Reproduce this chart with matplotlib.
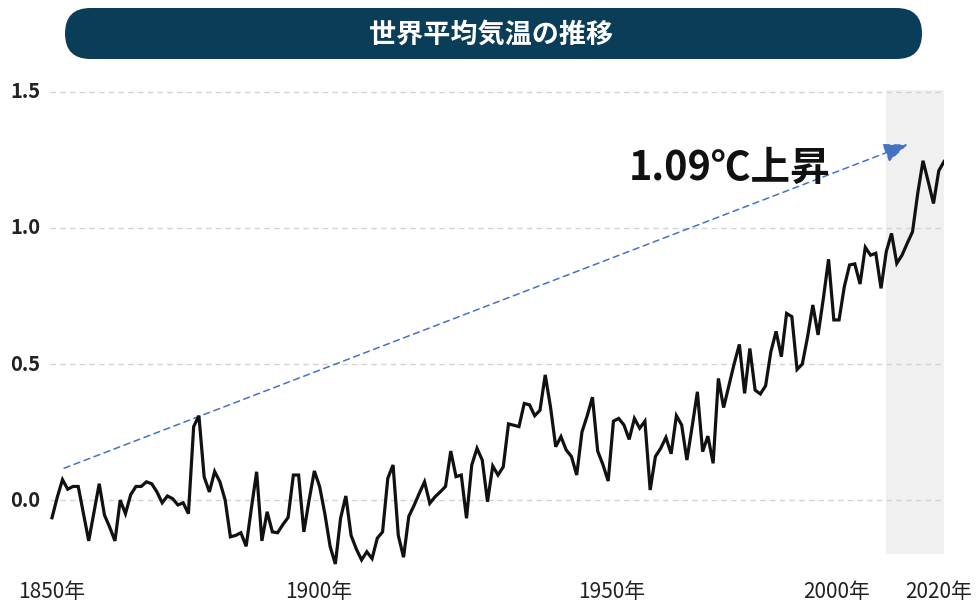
import numpy as np
import matplotlib
matplotlib.use("Agg")
import matplotlib.pyplot as plt
import matplotlib.transforms as mtransforms
from matplotlib.patches import FancyBboxPatch, Rectangle

plt.rcParams['font.family'] = ['Noto Sans CJK JP', 'DejaVu Sans']

# ---------------- data ----------------
years = list(range(1850, 2021))
anomaly = [
    -0.065, 0.01, 0.075, 0.04, 0.05, 0.05, -0.05, -0.15, -0.045, 0.06,
    -0.055, -0.10, -0.15, 0.0, -0.05, 0.02, 0.05, 0.05, 0.067, 0.06,
    0.03, -0.01, 0.015, 0.005, -0.018, -0.01, -0.05, 0.27, 0.31, 0.085,
    0.03, 0.105, 0.067, 0.0, -0.135, -0.13, -0.12, -0.17, -0.03, 0.104,
    -0.15, -0.043, -0.117, -0.12, -0.09, -0.064, 0.092, 0.092, -0.117, 0.0,
    0.107, 0.05, -0.05, -0.17, -0.235, -0.067, 0.015, -0.13, -0.18, -0.22,
    -0.19, -0.215, -0.14, -0.117, 0.08, 0.129, -0.13, -0.21, -0.06, -0.02,
    0.025, 0.067, -0.012, 0.012, 0.03, 0.05, 0.18, 0.086, 0.092, -0.067,
    0.129, 0.19, 0.147, -0.006, 0.125, 0.092, 0.122, 0.28, 0.275, 0.27,
    0.355, 0.35, 0.31, 0.33, 0.46, 0.343, 0.196, 0.233, 0.184, 0.16,
    0.092, 0.25, 0.31, 0.378, 0.18, 0.13, 0.07, 0.29, 0.30, 0.276,
    0.223, 0.30, 0.264, 0.29, 0.037, 0.16, 0.19, 0.23, 0.17, 0.31,
    0.276, 0.147, 0.27, 0.398, 0.178, 0.235, 0.135, 0.447, 0.34, 0.42,
    0.50, 0.572, 0.392, 0.557, 0.404, 0.39, 0.42, 0.545, 0.62, 0.527,
    0.686, 0.674, 0.48, 0.50, 0.60, 0.717, 0.607, 0.74, 0.885, 0.662,
    0.662, 0.784, 0.864, 0.868, 0.794, 0.929, 0.90, 0.907, 0.778, 0.913,
    0.98, 0.87, 0.90, 0.944, 0.986, 1.128, 1.247, 1.17, 1.09, 1.21,
    1.244,
]
y_ticks = [0.0, 0.5, 1.0, 1.5]
y_tick_labels = ["0.0", "0.5", "1.0", "1.5"]
x_tick_years = [1850, 1900, 1950, 2000, 2020]
x_tick_labels = ["1850年", "1900年", "1950年", "2000年", "2020年"]
highlight_span = (2009, 2020)
arrow_start = (1852.3, 0.117)
arrow_end = (2013.1, 1.307)
annotation_text = "1.09℃上昇"
annotation_pos = (1979.2, 1.22)
title = "世界平均気温の推移"

# ---------------- styles ----------------
W, H = 980, 605
x_label_shift_px = [0, 4, 35, -2, -5]
line_color = "#111111"
banner_color = "#0a3d57"
grid_color = "#d4d4d4"
span_color = "#f0f0f0"
arrow_color = "#4472c4"

fig = plt.figure(figsize=(W / 100, H / 100), dpi=100)
fig.patch.set_facecolor("white")

# main axes: px 50..944 horizontally, px 90..570 vertically
ax = fig.add_axes([50 / W, (H - 570) / H, 894 / W, 480 / H])
ax.set_xlim(1849.62, 2020.0)
ax.set_ylim(-0.257, 1.507)
for s in ax.spines.values():
    s.set_visible(False)
ax.set_xticks([])
ax.set_yticks([])
ax.set_facecolor("none")

# highlight region
ax.add_patch(Rectangle((highlight_span[0], -0.2), highlight_span[1] - highlight_span[0],
                       1.715, facecolor=span_color, edgecolor="none", zorder=0))

# gridlines
for yv in y_ticks:
    ax.axhline(yv, color=grid_color, lw=1.0, ls=(0, (4, 3)), zorder=1)

# the line
ax.plot(years, anomaly, color=line_color, lw=2.3, zorder=3, solid_joinstyle="miter")

# arrow
ax.annotate("", xy=arrow_end, xytext=arrow_start,
            arrowprops=dict(arrowstyle="-|>,head_length=1.5,head_width=0.6",
                            color=arrow_color, lw=1.1, ls=(0, (4, 3)),
                            shrinkA=0, shrinkB=0),
            zorder=2)
# annotation text
ax.text(annotation_pos[0], annotation_pos[1], annotation_text, fontsize=28.5,
        fontweight="bold", ha="center", va="center", color="#111111", zorder=4)

# y labels (left aligned at x=10px)
ytrans = mtransforms.blended_transform_factory(fig.transFigure, ax.transData)
for yv, lab in zip(y_ticks, y_tick_labels):
    fig.text(10 / W, yv, lab, transform=ytrans, ha="left", va="center",
             fontsize=14.5, fontweight="bold", color="#222222")

# x labels (kept inside the canvas)
xtrans = mtransforms.blended_transform_factory(ax.transData, fig.transFigure)
for xv, lab, sh in zip(x_tick_years, x_tick_labels, x_label_shift_px):
    t = xtrans + mtransforms.ScaledTranslation(sh / 100, 0, fig.dpi_scale_trans)
    fig.text(xv, 1.5 / H, lab, transform=t, ha="center", va="bottom",
             fontsize=15, color="#222222")

# banner title overlay in pixel coordinates
ov = fig.add_axes([0, 0, 1, 1], zorder=5)
ov.set_xlim(0, W)
ov.set_ylim(H, 0)
ov.axis("off")
ov.patch.set_alpha(0)
ov.add_patch(FancyBboxPatch((65, 8), 857, 51,
                            boxstyle="round,pad=0,rounding_size=25.5",
                            facecolor=banner_color, edgecolor="none"))
ov.text(491, 35, title, color="white", fontsize=19.5, fontweight="bold",
        ha="center", va="center")

fig.savefig("out.png", dpi=100)
